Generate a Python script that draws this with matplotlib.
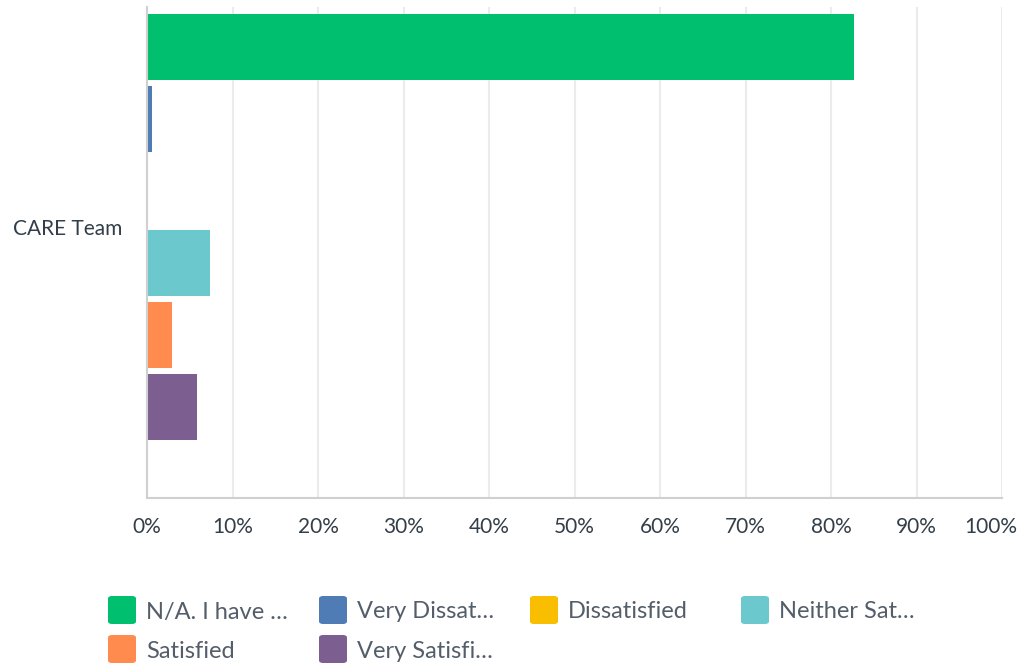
import matplotlib.pyplot as plt
import matplotlib.transforms as mtransforms
from matplotlib.patches import FancyBboxPatch

# data
categories = ["CARE Team"]
answers = ["N/A. I have …", "Very Dissat…", "Dissatisfied", "Neither Sat…",
           "Satisfied", "Very Satisfi…"]
values = [82.7, 0.6, 0.0, 7.4, 2.9, 5.85]
colors = ["#00BF6F", "#507CB6", "#F9BE00", "#6BC8CD", "#FF8B4F", "#7D5E90"]
xticks = [0, 10, 20, 30, 40, 50, 60, 70, 80, 90, 100]

plt.rcParams['font.family'] = ['Lato', 'DejaVu Sans']
tick_color = '#333e48'
legend_color = '#545e6b'

fig = plt.figure(figsize=(10.23, 6.66), dpi=100)
ax = fig.add_axes([147 / 1023, 1 - 498 / 666, (1002 - 147) / 1023, (498 - 7) / 666])

ypos = list(range(len(values)))
ax.barh(ypos, values, height=0.917, color=colors, zorder=3)

ax.set_xlim(0, 100)
ax.set_ylim(6.264, -0.556)
ax.set_xticks(xticks)
ax.set_xticklabels([f"{t}%" for t in xticks])
ax.set_yticks([2.5])
ax.set_yticklabels(categories)
ax.tick_params(axis='x', length=0, pad=14, labelsize=15, colors=tick_color)
ax.tick_params(axis='y', length=0, pad=18, labelsize=15, colors=tick_color)

# last label is pulled inside the figure like in the original
last = ax.get_xticklabels()[-1]
last.set_transform(last.get_transform() +
                   mtransforms.ScaledTranslation(-11 / 100, 0, fig.dpi_scale_trans))

ax.grid(axis='x', color='#ebebeb', linewidth=1.5, zorder=0)
for s in ['top', 'right']:
    ax.spines[s].set_visible(False)
for s in ['left', 'bottom']:
    ax.spines[s].set_color('#d0d0d0')
    ax.spines[s].set_linewidth(1.5)
    ax.spines[s].set_zorder(4)

# legend, laid out row by row in 4 columns
col_x = [108, 319, 530, 741]
row_y = [610, 649]
box = 28
for i, (lab, c) in enumerate(zip(answers, colors)):
    r, k = divmod(i, 4)
    x0 = col_x[k] / 1023
    yc = 1 - row_y[r] / 666
    patch = FancyBboxPatch((x0, yc - box / 2 / 666), box / 1023, box / 666,
                           boxstyle="round,pad=0,rounding_size=0.004",
                           transform=fig.transFigure, facecolor=c, edgecolor='none')
    fig.add_artist(patch)
    fig.text((col_x[k] + box + 10) / 1023, yc - 2 / 666, lab, fontsize=17,
             color=legend_color, va='center', ha='left')

fig.savefig('out.png', dpi=100)
